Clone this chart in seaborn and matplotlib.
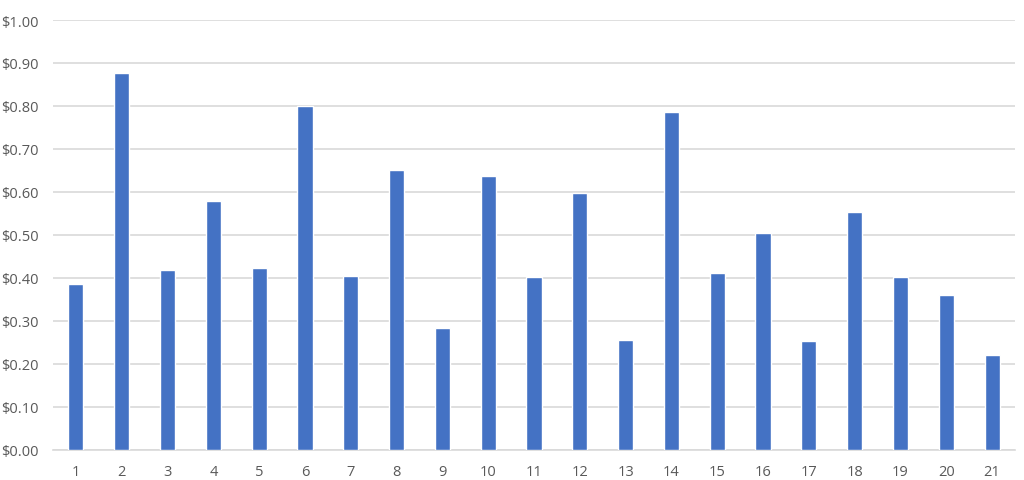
import matplotlib
matplotlib.use("Agg")
import matplotlib.pyplot as plt
import seaborn as sns
import pandas as pd
from matplotlib.ticker import FuncFormatter, MultipleLocator

categories = [str(i) for i in range(1, 22)]
values = [0.385, 0.877, 0.418, 0.578, 0.422, 0.801, 0.405, 0.651, 0.284, 0.638,
          0.403, 0.598, 0.256, 0.785, 0.411, 0.504, 0.252, 0.553, 0.403, 0.360, 0.220]

sns.set_style("white")
plt.rcParams['font.family'] = ['Open Sans', 'DejaVu Sans']

df = pd.DataFrame({"cat": categories, "val": values})

fig = plt.figure(figsize=(10.24, 4.81), dpi=100)
W, H = 1024, 481
ax = fig.add_axes([53 / W, (H - 450.7) / H, (1015 - 53) / W, (450.7 - 21) / H])

sns.barplot(data=df, x="cat", y="val", color="#4472C4", width=0.33, saturation=1,
            ax=ax, zorder=3)

ax.set_ylim(0, 1.0)
ax.set_xlim(-0.5, len(categories) - 0.5)
ax.yaxis.set_major_locator(MultipleLocator(0.1))
ax.yaxis.set_major_formatter(FuncFormatter(lambda v, p: f"${v:.2f}"))
ax.grid(axis="y", color="#D9D9D9", linewidth=1.2, zorder=0)
ax.set_axisbelow(True)
for s in ["top", "right", "left"]:
    ax.spines[s].set_visible(False)
ax.spines["bottom"].set_color("#D9D9D9")
ax.spines["bottom"].set_linewidth(1.2)
ax.set_xlabel("")
ax.set_ylabel("")
ax.tick_params(axis="both", length=0, labelsize=10.5, colors="#595959")
ax.tick_params(axis="y", pad=10)
ax.tick_params(axis="x", pad=10)

fig.savefig("out.png", dpi=100)
